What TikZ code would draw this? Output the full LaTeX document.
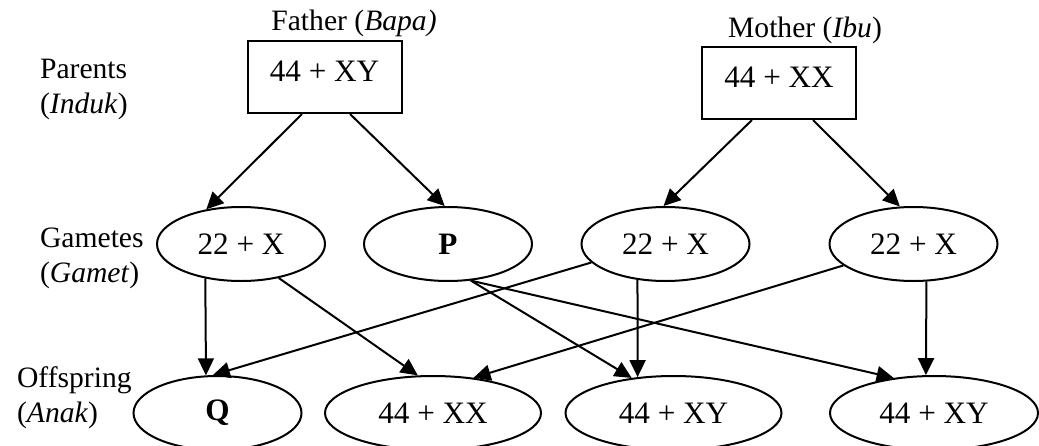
\documentclass[tikz,border=0pt]{standalone}
\usepackage{fontspec}
\setmainfont{Liberation Serif}
\usepackage{tikz}
\usetikzlibrary{calc}
\usetikzlibrary{shapes}
\usetikzlibrary{arrows.meta}

\begin{document}
\begin{tikzpicture}[x=0.5pt,y=-0.5pt,
		font=\fontsize{14.8}{17.5}\selectfont,
		box/.style={font=\fontsize{15.6}{18}\selectfont},
		parent/.style={box,draw,line width=1pt,rectangle,minimum width=77pt,minimum height=36pt,inner sep=0pt,text height=10pt,text depth=5.5pt},
		gamete/.style={box,draw,line width=1pt,ellipse,minimum width=84pt,minimum height=37pt,inner sep=0pt},
		child/.style={gamete,minimum width=108pt},
		arr/.style={line width=1pt,-{Triangle[length=8.5pt,width=8pt]}}]
		\useasboundingbox (0,0) rectangle (1039,445);
%		\draw[very thin,densely dashed] (0,0) grid[step=50] (1039,445);
		% row labels
		\node [anchor=base west,align=left] (lpar) at (33,113) {Parents\\(\textit{Induk})};
		\node [anchor=base west,align=left] (lgam) at (33,282) {Gametes\\(\textit{Gamet})};
		\node [anchor=base west,align=left] (loff) at (10,422) {Offspring\\(\textit{Anak})};
		% parents
		\node [parent] (fa) at (324.5,77) {44 + XY};
		\node [parent] (mo) at (779,83) {44 + XX};
		\node [anchor=base] (lfa) at (354,30) {Father (\textit{Bapa)}};
		\node [anchor=base] (lmo) at (805,37) {Mother (\textit{Ibu})};
		% gametes
		\node [gamete] (g1) at (241,244) {22 + X};
		\node [gamete] (p) at (448,244) {\textbf{P}};
		\node [gamete] (g3) at (665.5,244) {22 + X};
		\node [gamete] (g4) at (913.5,244) {22 + X};
		% offspring
		\node [gamete] (q) at (217.5,413) {\textbf{Q}};
		\node [child] (o2) at (433,413) {44 + XX};
		\node [child] (o3) at (673.5,413) {44 + XY};
		\node [child,minimum width=104pt] (o4) at (934,413) {44 + XY};
		% parents to gametes
		\draw [arr] ([xshift=-11.25pt]fa.south)--(g1.135);
		\draw [arr] ([xshift=12.75pt]fa.south)--(p.95);
		\draw [arr] ([xshift=-13.5pt]mo.south)--(g3.93);
		\draw [arr] ([xshift=17pt]mo.south)--(g4.110);
		% gametes to offspring
		\draw [arr] (g1.224)--(q.107);
		\draw [arr] (g1.318)--(o2.112);
		\draw [arr] (g3.194)--(q.97);
		\draw [arr] (g3.232)--(o3.135);
		\draw [arr] (p.302)--(o3.140);
		\draw [arr] (p.302)--(o4.139);
		\draw [arr] (g4.197)--(o2.41.5);
		\draw [arr] (g4.289)--(o4.102);
	\end{tikzpicture}
\end{document}
